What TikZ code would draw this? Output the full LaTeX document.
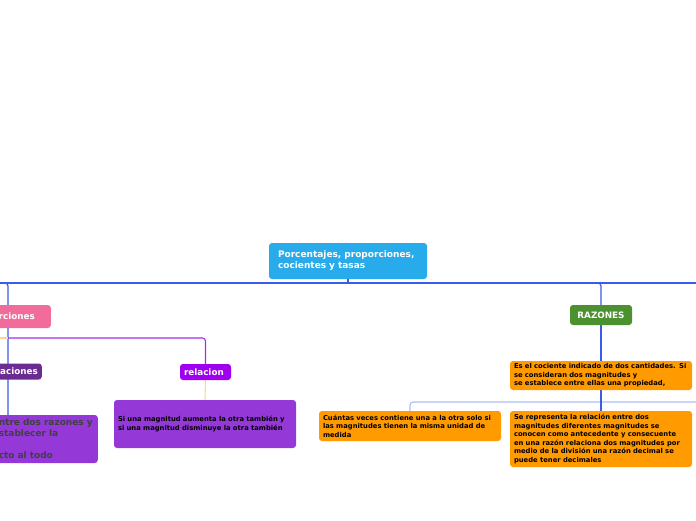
\documentclass[tikz,border=0pt]{standalone}
\usepackage{fontspec}
\setmainfont{DejaVu Sans}
\usetikzlibrary{backgrounds}
\begin{document}
\begin{tikzpicture}[x=1pt, y=-1pt, font=\bfseries,
        box/.style={rounded corners=3pt, align=left, inner sep=0pt},
        tag/.style={box, font=\fontsize{8.8}{11}\selectfont\bfseries, text=white},
        big/.style={box, font=\fontsize{9}{11}\selectfont\bfseries, text=white},
        small/.style={box, font=\fontsize{6.8}{8.6}\selectfont\bfseries, text=black},
        ora/.style={small, fill=orangeF, minimum width=182pt, text width=174pt},
        trunk/.style={draw=blueL, line width=1.2pt, rounded corners=3pt},
        twig/.style={line width=1.1pt, rounded corners=3pt}]
      \definecolor{rootC}{HTML}{28ABEA}
      \definecolor{pinkC}{HTML}{F26C9B}
      \definecolor{violD}{HTML}{6A2C91}
      \definecolor{violB}{HTML}{A100F0}
      \definecolor{violM}{HTML}{9439D8}
      \definecolor{greenC}{HTML}{4B912F}
      \definecolor{orangeF}{HTML}{FF9A00}
      \definecolor{blueL}{HTML}{3B5BEA}
      \definecolor{blueP}{HTML}{A9BEF2}
      \definecolor{lineO}{HTML}{FFD29A}
      \definecolor{lineV}{HTML}{A52BF0}
      \useasboundingbox (0,0) rectangle (696,520);
      \clip (0,0) rectangle (696,520);
      \coordinate (lft) at (-30,283);
      \coordinate (rgt) at (730,283);
      \coordinate (igtop) at (8,415);
      \coordinate (plft) at (-30,338);
      \coordinate (pmid) at (8,338);
      \coordinate (brgt) at (730,402);
      \node[big, fill=rootC, minimum width=158pt, minimum height=36pt, text width=140pt] (root) at (348,261)
        {Porcentajes, proporciones,\\cocientes y tasas};
      \node[tag, fill=pinkC, anchor=east, minimum height=23pt, inner xsep=16pt] (prop) at (51,316.5) {rciones};
      \node[tag, fill=violD, anchor=east, minimum height=16pt, inner xsep=4pt] (vari) at (42,371.5) {aciones};
      \node[tag, fill=violB, minimum width=51pt, minimum height=16pt, text width=43pt] (rel) at (205.5,372) {relacion};
      \node[small, fill=violM, minimum width=182pt, minimum height=48pt, text width=174pt] (sirel) at (205,424)
        {Si una magnitud aumenta la otra también y\\si una magnitud disminuye la otra también};
      \node[big, fill=violM, text=black!75, anchor=east, minimum height=48pt, text width=94pt, inner xsep=5pt] (igual) at (98,439)
        {ntre dos razones y\\stablecer la\\[11pt]cto al todo};
      \node[tag, fill=greenC, minimum width=62pt, minimum height=20pt, align=center] (raz) at (601,315) {RAZONES};
      \node[ora, minimum height=29pt] (escoc) at (601,375.5)
        {Es el cociente indicado de dos cantidades. Si\\se consideran dos magnitudes y\\se establece entre ellas una propiedad,};
      \node[ora, minimum height=30pt] (cuant) at (410,426)
        {Cuántas veces contiene una a la otra solo si\\las magnitudes tienen la misma unidad de\\medida};
      \node[ora, minimum height=56pt] (serep) at (601,439)
        {Se representa la relación entre dos\\magnitudes diferentes magnitudes se\\conocen como antecedente y consecuente\\en una razón relaciona dos magnitudes por\\medio de la división una razón decimal se\\puede tener decimales};
      \begin{scope}[on background layer]
        \draw[trunk] (lft) -- (rgt);
        \draw[trunk] (root.south) -- (root.south |- rgt);
        \draw[trunk] (lft) -| (igtop);
        \draw[trunk] (root.south |- rgt) -| (raz.north);
        \draw[twig, draw=lineV] (plft) -| (rel.north);
        \draw[twig, draw=lineO] (plft) -- (pmid);
        \draw[twig, draw=lineO] (rel.south) -- (sirel.north);
        \draw[trunk] (raz.south) -- (escoc.north);
        \draw[twig, draw=blueP] (brgt) -| (cuant.north);
        \draw[trunk] (escoc.south) -- (serep.north);
      \end{scope}
    \end{tikzpicture}
\end{document}
